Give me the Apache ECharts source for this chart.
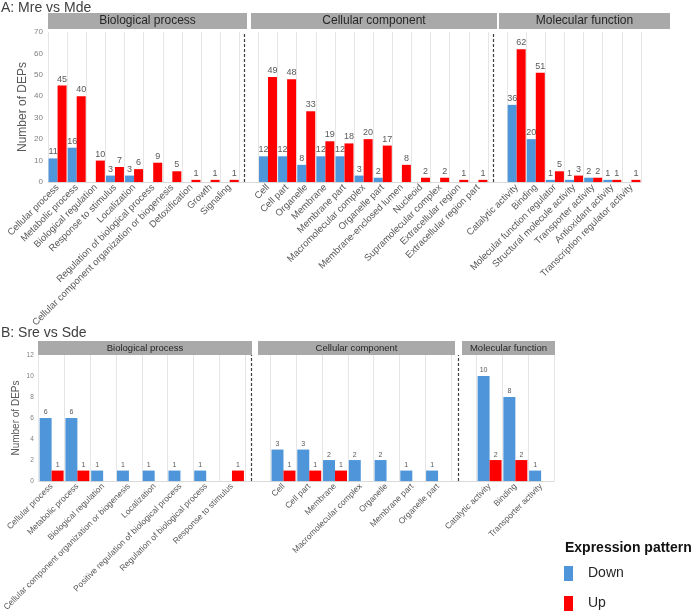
<!DOCTYPE html>
<html><head><meta charset="utf-8">
<script src="https://cdn.jsdelivr.net/npm/echarts@6/dist/echarts.min.js"></script>
<style>html,body{margin:0;padding:0;background:#fff}#c{width:697px;height:614px}</style>
</head><body><div id="c"></div>
<script>
// ---------- Panel A: Mre vs Mde ----------
const aBioCats = ['Cellular process','Metabolic process','Biological regulation','Response to stimulus','Localization','Regulation of biological process','Cellular component organization or biogenesis','Detoxification','Growth','Signaling'];
const aBioDown = [11,16,null,3,3,null,null,null,null,null];
const aBioUp   = [45,40,10,7,6,9,5,1,1,1];
const aCellCats = ['Cell','Cell part','Organelle','Membrane','Membrane part','Macromolecular complex','Organelle part','Membrane-enclosed lumen','Nucleoid','Supramolecular complex','Extracellular region','Extracellular region part'];
const aCellDown = [12,12,8,12,12,3,2,null,null,null,null,null];
const aCellUp   = [49,48,33,19,18,20,17,8,2,2,1,1];
const aMolCats = ['Catalytic activity','Binding','Molecular function regulator','Structural molecule activity','Transporter activity','Antioxidant activity','Transcription regulator activity'];
const aMolDown = [36,20,1,1,2,1,null];
const aMolUp   = [62,51,5,3,2,1,1];
const aYTicks = [0,10,20,30,40,50,60,70];

// ---------- Panel B: Sre vs Sde ----------
const bBioCats = ['Cellular process','Metabolic process','Biological regulation','Cellular component organization or biogenesis','Localization','Positive regulation of biological process','Regulation of biological process','Response to stimulus'];
const bBioDown = [6,6,1,1,1,1,1,null];
const bBioUp   = [1,1,null,null,null,null,null,1];
const bCellCats = ['Cell','Cell part','Membrane','Macromolecular complex','Organelle','Membrane part','Organelle part'];
const bCellDown = [3,3,2,2,2,1,1];
const bCellUp   = [1,1,1,null,null,null,null];
const bMolCats = ['Catalytic activity','Binding','Transporter activity'];
const bMolDown = [10,8,1];
const bMolUp   = [2,2,null];
const bYTicks = [0,2,4,6,8,10,12];

const groups = ['Biological process','Cellular component','Molecular function'];

function join(a,b,c){ return [...a, null, ...b, null, ...c]; }
const aCats = [...aBioCats,' ',...aCellCats,'  ',...aMolCats];
const bCats = [...bBioCats,' ',...bCellCats,'  ',...bMolCats];
const aDown = join(aBioDown,aCellDown,aMolDown), aUp = join(aBioUp,aCellUp,aMolUp);
const bDown = join(bBioDown,bCellDown,bMolDown), bUp = join(bBioUp,bCellUp,bMolUp);
const aSep = [aBioCats.length, aBioCats.length+1+aCellCats.length];
const bSep = [bBioCats.length, bBioCats.length+1+bCellCats.length];

const BLUE = '#4E95D9', RED = '#FF0000', TXT = '#595959', FONT = 'Liberation Sans, Arial, sans-serif';

const chart = echarts.init(document.getElementById('c'), null, {renderer:'canvas'});

function xAx(gi, cats, fs){
  return {type:'category', gridIndex:gi, data:cats,
    axisTick:{show:false}, axisLine:{lineStyle:{color:'#d9d9d9'}},
    axisLabel:{interval:0, rotate:45, fontSize:fs, color:TXT, fontFamily:FONT, margin:4},
    splitLine:{show:true, interval:0, lineStyle:{color:'#e6e6e6', width:1}}};
}
function yAx(gi, ticks, fs, nfs, gap){
  return {type:'value', gridIndex:gi, min:ticks[0], max:ticks[ticks.length-1], interval:ticks[1]-ticks[0],
    axisLine:{show:false}, axisTick:{show:false}, splitLine:{show:false},
    axisLabel:{fontSize:fs, color:'#7f7f7f', fontFamily:FONT, margin:5},
    name:'Number of DEPs', nameLocation:'middle', nameGap:gap, nameMoveOverlap:false,
    nameTextStyle:{fontSize:nfs, color:TXT, fontFamily:FONT}};
}
function bars(gi, down, up, lfs, gapCat, seps){
  const lab = {show:true, position:'top', fontSize:lfs, color:TXT, fontFamily:FONT, distance:2};
  return [
    {name:'Down', type:'bar', xAxisIndex:gi, yAxisIndex:gi, data:down, itemStyle:{color:BLUE},
     barGap:'0%', barCategoryGap:gapCat, label:lab,
     markLine:{silent:true, symbol:'none', label:{show:false},
       lineStyle:{color:'#404040', type:[3,2], width:1.2},
       data: seps.map(s=>({xAxis:s}))}},
    {name:'Up', type:'bar', xAxisIndex:gi, yAxisIndex:gi, data:up, itemStyle:{color:RED},
     barGap:'0%', barCategoryGap:gapCat, label:lab}
  ];
}
function strip(x1,x2,y,h,text,fs){
  return [
    {type:'rect', shape:{x:x1,y:y,width:x2-x1,height:h}, style:{fill:'#a9a9a9'}},
    {type:'text', x:(x1+x2)/2, y:y+h/2, style:{text:text, fill:'#262626', font:fs+'px '+FONT, align:'center', verticalAlign:'middle'}}
  ];
}

const option = {
  animation:false,
  backgroundColor:'#fff',
  textStyle:{fontFamily:FONT},
  grid:[
    {left:48, top:32, width:593, height:150, containLabel:false},
    {left:38, top:355, width:516, height:129, containLabel:false}
  ],
  xAxis:[xAx(0,aCats,9.5), xAx(1,bCats,8.5)],
  yAxis:[yAx(0,aYTicks,8,12,19), yAx(1,bYTicks,6.5,10,17)],
  legend:{data:['Down','Up'], orient:'vertical', left:564, top:566, padding:0,
    itemWidth:9, itemHeight:15, itemGap:15,
    icon:'rect', textStyle:{fontSize:14, color:'#262626', fontFamily:FONT, padding:[0,0,0,10]}},
  series:[...bars(0,aDown,aUp,9,'6%',aSep), ...bars(1,bDown,bUp,7,'7%',bSep)],
  graphic:[
    ...strip(48,247,13,16,groups[0],12),
    ...strip(251,497,13,16,groups[1],12),
    ...strip(499,670,13,16,groups[2],12),
    ...strip(38,252,341,14,groups[0],9.5),
    ...strip(258,455,341,14,groups[1],9.5),
    ...strip(462,555,341,14,groups[2],9.5),
    {type:'text', x:1, y:15.5, style:{text:'A: Mre vs Mde', fill:'#404040', font:'14px '+FONT, verticalAlign:'bottom'}},
    {type:'text', x:1, y:340, style:{text:'B: Sre vs Sde', fill:'#404040', font:'14px '+FONT, verticalAlign:'bottom'}},
    {type:'text', left:565, top:541, style:{text:'Expression pattern', fill:'#111', font:'bold 14px '+FONT}}
  ]
};
chart.setOption(option);
</script></body></html>
